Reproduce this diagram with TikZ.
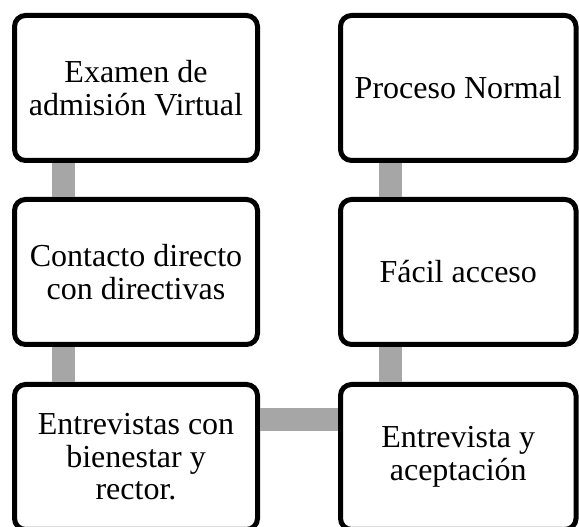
\documentclass[tikz,border=0pt]{standalone}
\usepackage{fontspec}
\setmainfont{Liberation Serif}
\definecolor{conngray}{RGB}{166,166,166}
\begin{document}
\begin{tikzpicture}[x=1pt,y=1pt,
  box/.style={draw=black, line width=5pt, rounded corners=11pt, fill=white,
    minimum height=145pt, inner sep=0pt, align=center,
    font=\fontsize{32}{32.5}\selectfont},
  lbox/.style={box, minimum width=243pt},
  rbox/.style={box, minimum width=235.5pt},
  conn/.style={draw=conngray, line width=23pt}]
\useasboundingbox (0,0) rectangle (579,527);
\clip (0,0) rectangle (579,527);
\node[lbox] (a) at (136,439) {Examen de\\admisión Virtual};
\node[lbox] (b) at (136,255) {Contacto directo\\con directivas};
\node[lbox] (c) at (136,70) {Entrevistas con\\bienestar y\\rector.};
\node[rbox] (d) at (458.25,439) {Proceso Normal};
\node[rbox] (e) at (458.25,255) {Fácil acceso};
\node[rbox] (f) at (458.25,70) {Entrevista y\\aceptación};
\path[conn] ([xshift=-72.5pt]a.south) -- ([xshift=-72.5pt]b.north);
\path[conn] ([xshift=-72.5pt]b.south) -- ([xshift=-72.5pt]c.north);
\path[conn] ([xshift=-68.25pt]d.south) -- ([xshift=-68.25pt]e.north);
\path[conn] ([xshift=-68.25pt]e.south) -- ([xshift=-68.25pt]f.north);
\path[conn] ([yshift=37pt]c.east) -- ([yshift=37pt]f.west);
\end{tikzpicture}
\end{document}
